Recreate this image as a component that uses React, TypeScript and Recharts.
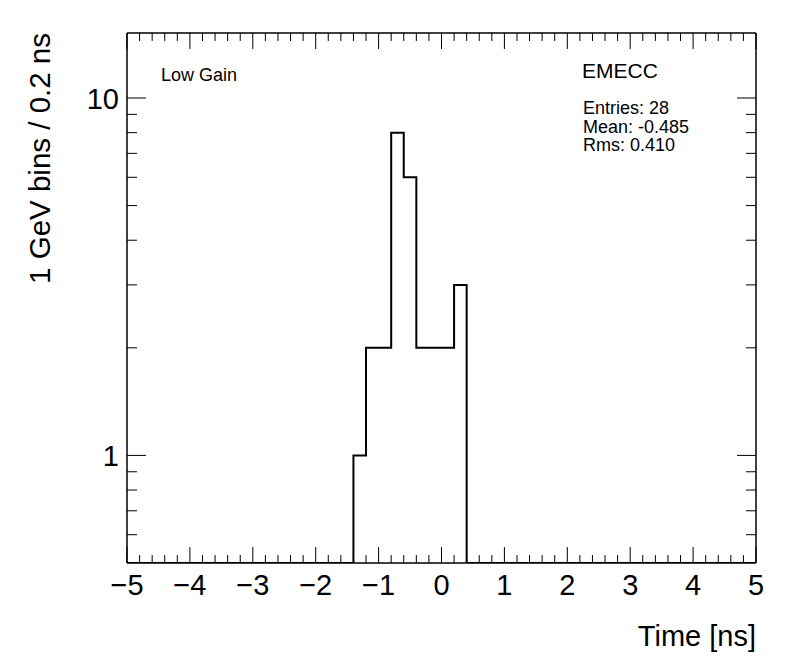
import { Line, LineChart, XAxis, YAxis } from "recharts";

// histogram of time, 0.2 ns bins, only the filled region is listed
const binEdges = [-1.4, -1.2, -1.0, -0.8, -0.6, -0.4, -0.2, 0.0, 0.2, 0.4];
const binCounts = [1, 2, 2, 8, 6, 2, 2, 2, 3];

const xRange: [number, number] = [-5, 5];
const yRange: [number, number] = [0.5, 15.2];

const xMajorTicks = [-5, -4, -3, -2, -1, 0, 1, 2, 3, 4, 5];
const yTicks = [0.6, 0.7, 0.8, 0.9, 1, 2, 3, 4, 5, 6, 7, 8, 9, 10];
const yLabelled = [1, 10];

const statsTitle = "EMECC";
const statsLines = ["Entries: 28", "Mean: -0.485", "Rms: 0.410"];
const padLabel = "Low Gain";

const FONT = '"Liberation Sans", Arial, Helvetica, sans-serif';

// minor ticks every 0.2 ns
const xTicks: number[] = [];
for (let i = 0; i <= 50; i++) xTicks.push(Math.round((-5 + i * 0.2) * 10) / 10);

// step points: empty bins sit on the bottom of the log axis
const chartData = [
  { t: xRange[0], n: yRange[0] },
  ...binCounts.map((n, i) => ({ t: binEdges[i], n })),
  { t: binEdges[binEdges.length - 1], n: yRange[0] },
  { t: xRange[1], n: yRange[0] },
];

const isMajorX = (v: number) => xMajorTicks.some((m) => Math.abs(m - v) < 1e-6);
const fmtX = (v: number) => (v < 0 ? `\u2212${-v}` : `${v}`);

function xTick(side: "bottom" | "top") {
  return (props: any) => {
    const { x, y, payload } = props;
    const v = payload.value as number;
    const major = isMajorX(v);
    const len = major ? 16 : 8;
    const dir = side === "bottom" ? -1 : 1;
    return (
      <g>
        <line x1={x} x2={x} y1={y} y2={y + dir * len} stroke="#000" strokeWidth={1} />
        {side === "bottom" && major && (
          <text x={x} y={y + 32} textAnchor="middle" fontSize={29} fontFamily={FONT} fill="#000">
            {fmtX(v)}
          </text>
        )}
      </g>
    );
  };
}

function yTick(side: "left" | "right") {
  return (props: any) => {
    const { x, y, payload } = props;
    const v = payload.value as number;
    const major = yLabelled.includes(v);
    const len = major ? 19 : 10;
    const dir = side === "left" ? 1 : -1;
    return (
      <g>
        <line x1={x} x2={x + dir * len} y1={y} y2={y} stroke="#000" strokeWidth={1} />
        {side === "left" && major && (
          <text x={x - 8} y={y + 11} textAnchor="end" fontSize={29} fontFamily={FONT} fill="#000">
            {v}
          </text>
        )}
      </g>
    );
  };
}

export default function App() {
  return (
    <div style={{ position: "absolute", left: 0, top: 0, width: 796, height: 672, background: "#fff" }}>
      <LineChart
        width={796}
        height={672}
        data={chartData}
        margin={{ top: 32, right: 39, bottom: 108, left: 126 }}
      >
        <XAxis
          xAxisId="b"
          dataKey="t"
          type="number"
          domain={xRange}
          ticks={xTicks}
          interval={0}
          height={1}
          tickSize={0}
          tickMargin={0}
          tickLine={false}
          tick={xTick("bottom")}
          axisLine={{ stroke: "#000", strokeWidth: 1.5 }}
          allowDataOverflow
        />
        <XAxis
          xAxisId="t"
          orientation="top"
          dataKey="t"
          type="number"
          domain={xRange}
          ticks={xTicks}
          interval={0}
          height={1}
          tickSize={0}
          tickMargin={0}
          tickLine={false}
          tick={xTick("top")}
          axisLine={{ stroke: "#000", strokeWidth: 1.5 }}
          allowDataOverflow
        />
        <YAxis
          yAxisId="l"
          type="number"
          scale="log"
          domain={yRange}
          ticks={yTicks}
          interval={0}
          width={1}
          tickSize={0}
          tickMargin={0}
          tickLine={false}
          tick={yTick("left")}
          axisLine={{ stroke: "#000", strokeWidth: 1.5 }}
          allowDataOverflow
        />
        <YAxis
          yAxisId="r"
          orientation="right"
          type="number"
          scale="log"
          domain={yRange}
          ticks={yTicks}
          interval={0}
          width={1}
          tickSize={0}
          tickMargin={0}
          tickLine={false}
          tick={yTick("right")}
          axisLine={{ stroke: "#000", strokeWidth: 1.5 }}
          allowDataOverflow
        />
        <Line
          xAxisId="b"
          yAxisId="l"
          dataKey="n"
          type="stepAfter"
          stroke="#000"
          strokeWidth={2}
          dot={false}
          activeDot={false}
          isAnimationActive={false}
        />
        <Line
          xAxisId="t"
          yAxisId="r"
          dataKey="n"
          type="stepAfter"
          stroke="none"
          dot={false}
          activeDot={false}
          isAnimationActive={false}
        />
      </LineChart>
      <svg
        width={796}
        height={672}
        style={{ position: "absolute", left: 0, top: 0, pointerEvents: "none" }}
        fontFamily={FONT}
        fill="#000"
      >
        <text transform="translate(50,33) rotate(-90)" textAnchor="end" fontSize={29.5}>
          1 GeV bins / 0.2 ns
        </text>
        <text x={756} y={646} textAnchor="end" fontSize={29}>
          Time [ns]
        </text>
        <text x={161} y={81} fontSize={18}>
          {padLabel}
        </text>
        <text x={582} y={78} fontSize={21}>
          {statsTitle}
        </text>
        {statsLines.map((s, i) => (
          <text key={s} x={583} y={114 + i * 18.5} fontSize={18}>
            {s}
          </text>
        ))}
      </svg>
    </div>
  );
}
